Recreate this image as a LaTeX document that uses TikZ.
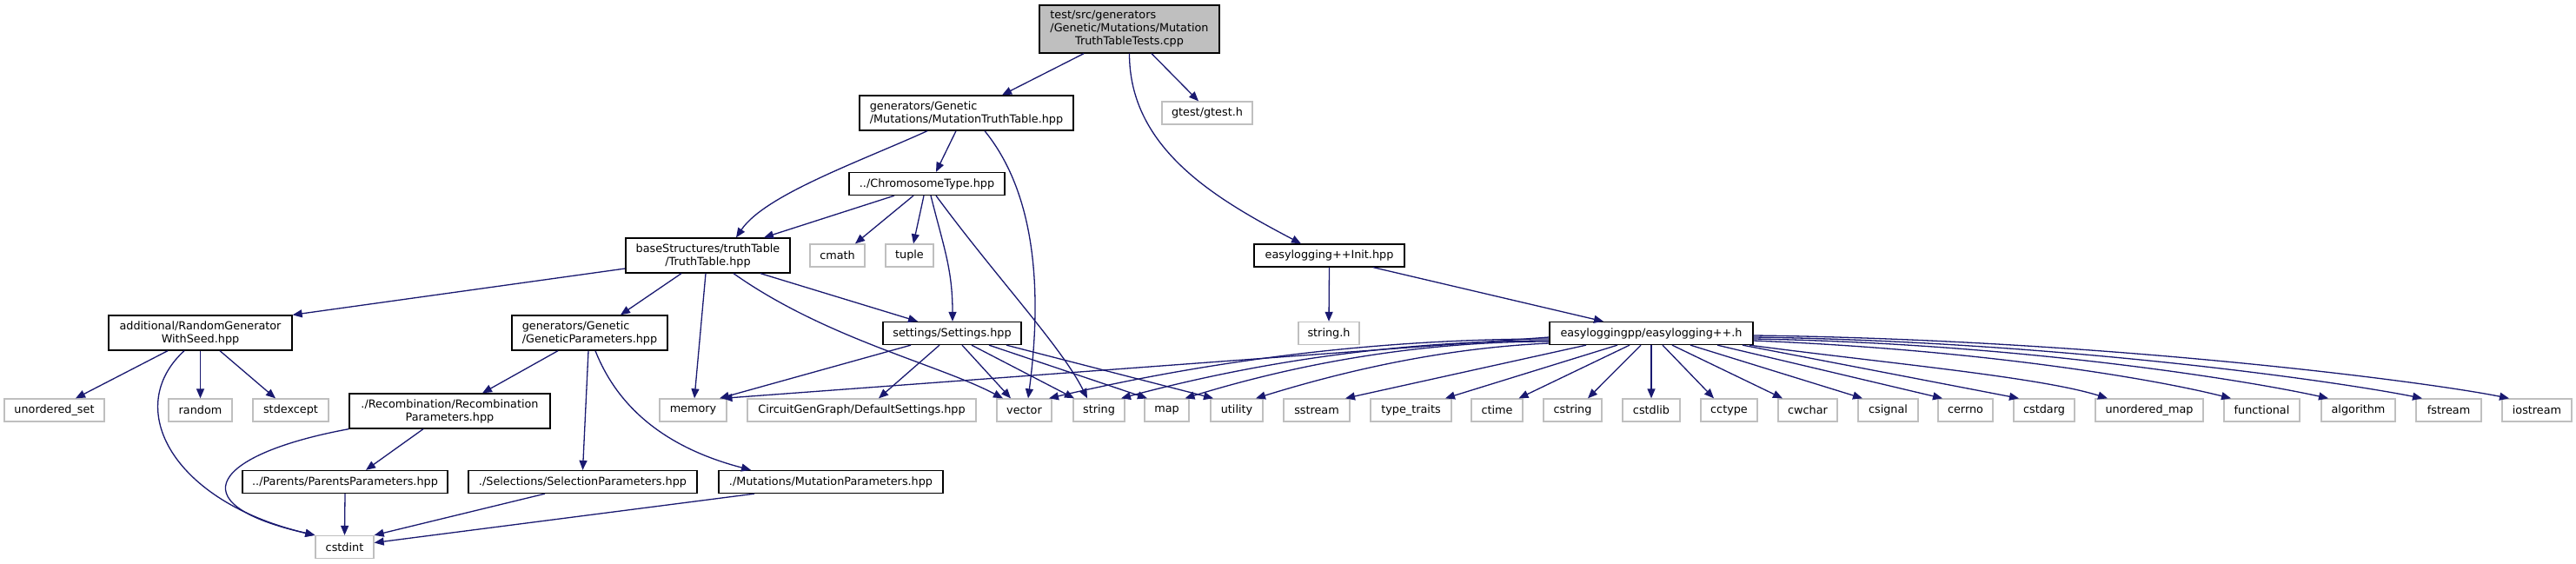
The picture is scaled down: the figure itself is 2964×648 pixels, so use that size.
\documentclass[tikz,border=0pt]{standalone}
\usepackage{fontspec}
\setmainfont{DejaVu Sans}
\usetikzlibrary{arrows.meta}
\definecolor{edgeblue}{HTML}{191970}
\definecolor{sysgray}{HTML}{BFBFBF}
\newlength\lw
\newcommand\lline[2]{\settowidth{\lw}{#2}\makebox[\lw][l]{#1}}
\begin{document}
\begin{tikzpicture}[x=1pt,y=-1pt,
  box/.style={rectangle, inner sep=0pt, font=\fontsize{12.8}{15}\selectfont, align=center, line width=1.3pt, minimum height=26pt},
  doc/.style={box, draw=black, fill=white},
  sys/.style={box, draw=sysgray, fill=white},
  mainnode/.style={box, draw=black, fill=sysgray},
  edge/.style={draw=edgeblue, line width=1.3pt, -{Triangle[length=11pt,width=9pt]}}
]
\fill[white] (0,0) rectangle (2964,648);
\useasboundingbox (0,0) rectangle (2964,648);

% documented nodes
\node[mainnode, minimum width=207pt, minimum height=55pt] (top) at (1299.5,33.5)
  {\lline{test/src/generators}{/Genetic/Mutations/Mutation}\\/Genetic/Mutations/Mutation\\TruthTableTests.cpp};
\node[doc, minimum width=246pt, minimum height=40pt] (mtt) at (1112,130)
  {\lline{generators/Genetic}{/Mutations/MutationTruthTable.hpp}\\/Mutations/MutationTruthTable.hpp};
\node[doc, minimum width=179pt] (chrom) at (1066.5,211.5) {../ChromosomeType.hpp};
\node[doc, minimum width=189pt, minimum height=40pt] (tt) at (814.5,294) {baseStructures/truthTable\\/TruthTable.hpp};
\node[doc, minimum width=173pt] (init) at (1529.5,294) {easylogging++Init.hpp};
\node[doc, minimum width=234pt] (elpp) at (1900,383.5) {easyloggingpp/easylogging++.h};
\node[doc, minimum width=159pt] (settings) at (1095.5,383.5) {settings/Settings.hpp};
\node[doc, minimum width=211pt, minimum height=40pt] (rng) at (230.5,383) {additional/RandomGenerator\\WithSeed.hpp};
\node[doc, minimum width=179pt, minimum height=40pt] (gp) at (678.5,383)
  {\lline{generators/Genetic}{/GeneticParameters.hpp}\\/GeneticParameters.hpp};
\node[doc, minimum width=231pt, minimum height=40pt] (recomb) at (517.5,473) {./Recombination/Recombination\\Parameters.hpp};
\node[doc, minimum width=236pt] (parents) at (397,554.5) {../Parents/ParentsParameters.hpp};
\node[doc, minimum width=263pt] (selection) at (670.5,554.5) {./Selections/SelectionParameters.hpp};
\node[doc, minimum width=258pt] (mutation) at (956,554.5) {./Mutations/MutationParameters.hpp};

% system headers
\node[sys, minimum width=104pt] (gtest) at (1389,130) {gtest/gtest.h};
\node[sys, minimum width=63pt] (cmath) at (963.5,294) {cmath};
\node[sys, minimum width=55pt] (tuple) at (1046.5,294) {tuple};
\node[sys, minimum width=70pt] (stringh) at (1529,383.5) {string.h};
\node[sys, minimum width=115pt] (uset) at (62.5,472) {unordered\_set};
\node[sys, minimum width=73pt] (random) at (230.5,472) {random};
\node[sys, minimum width=87pt] (stdexcept) at (334.5,472) {stdexcept};
\node[sys, minimum width=77pt] (memory) at (797.5,472) {memory};
\node[sys, minimum width=263pt] (defset) at (991.5,472) {CircuitGenGraph/DefaultSettings.hpp};
\node[sys, minimum width=63pt] (vector) at (1178.5,472) {vector};
\node[sys, minimum width=59pt] (string) at (1264.5,472) {string};
\node[sys, minimum width=51pt] (map) at (1342.5,472) {map};
\node[sys, minimum width=60pt] (utility) at (1423,472) {utility};
\node[sys, minimum width=76pt] (sstream) at (1515,472) {sstream};
\node[sys, minimum width=93pt] (typetraits) at (1623.5,472) {type\_traits};
\node[sys, minimum width=59pt] (ctime) at (1722.5,472) {ctime};
\node[sys, minimum width=67pt] (cstring) at (1809.5,472) {cstring};
\node[sys, minimum width=66pt] (cstdlib) at (1900,472) {cstdlib};
\node[sys, minimum width=65pt] (cctype) at (1989.5,472) {cctype};
\node[sys, minimum width=68pt] (cwchar) at (2080,472) {cwchar};
\node[sys, minimum width=69pt] (csignal) at (2172.5,472) {csignal};
\node[sys, minimum width=63pt] (cerrno) at (2261.5,472) {cerrno};
\node[sys, minimum width=70pt] (cstdarg) at (2352,472) {cstdarg};
\node[sys, minimum width=124pt] (umap) at (2473,472) {unordered\_map};
\node[sys, minimum width=87pt] (functional) at (2602.5,472) {functional};
\node[sys, minimum width=85pt] (algorithm) at (2713.5,472) {algorithm};
\node[sys, minimum width=75pt] (fstream) at (2817.5,472) {fstream};
\node[sys, minimum width=80pt] (iostream) at (2919,472) {iostream};
\node[sys, minimum width=67pt] (cstdint) at (396.5,629.5) {cstdint};

% edges from top
\draw[edge] ([xshift=-52.5pt]top.south) -- ([xshift=41pt]mtt.north);
\draw[edge] ([xshift=25.5pt]top.south) -- ([xshift=-10pt]gtest.north);
\draw[edge] (top.south) .. controls +(0,110) and +(-97,-51) .. ([xshift=-32.5pt]init.north);

% MutationTruthTable
\draw[edge] ([xshift=-45pt]mtt.south) .. controls +(-77,35) and +(33,-49) .. ([xshift=32.5pt]tt.north);
\draw[edge] ([xshift=-12pt]mtt.south) -- ([xshift=10.5pt]chrom.north);
\draw[edge] ([xshift=21pt]mtt.south) .. controls +(57,70) and +(17,-129) .. ([xshift=4.5pt]vector.north);

% ChromosomeType
\draw[edge] ([xshift=-37.5pt]chrom.south) -- ([xshift=64.5pt]tt.north);
\draw[edge] ([xshift=-15.5pt]chrom.south) -- ([xshift=20.5pt]cmath.north);
\draw[edge] ([xshift=-3.5pt]chrom.south) -- ([xshift=4.5pt]tuple.north);
\draw[edge] ([xshift=4.5pt]chrom.south) .. controls +(15,60) and +(0,-60) .. ([xshift=0.5pt]settings.north);
\draw[edge] ([xshift=10.5pt]chrom.south) .. controls +(70,95) and +(-30,-60) .. ([xshift=-13.5pt]string.north);

% TruthTable
\draw[edge] ([yshift=-15pt]tt.west) -- (rng.north east);
\draw[edge] ([xshift=-30.5pt]tt.south) -- ([xshift=35.5pt]gp.north);
\draw[edge] ([xshift=-2.5pt]tt.south) -- ([xshift=1.5pt]memory.north);
\draw[edge] ([xshift=29.5pt]tt.south) .. controls +(106,75) and +(-74,-39) .. ([xshift=-24.5pt]vector.north);
\draw[edge] ([xshift=60.5pt]tt.south) -- ([xshift=-39.5pt]settings.north);

% Settings
\draw[edge] ([xshift=-47.5pt]settings.south) -- ([xshift=30.5pt]memory.north);
\draw[edge] ([xshift=-14.5pt]settings.south) -- ([xshift=19.5pt]defset.north);
\draw[edge] ([xshift=11.5pt]settings.south) -- ([xshift=-15.5pt]vector.north);
\draw[edge] ([xshift=22.5pt]settings.south) -- ([xshift=-28.5pt]string.north);
\draw[edge] ([xshift=42.5pt]settings.south) -- ([xshift=-22.5pt]map.north);
\draw[edge] ([xshift=62.5pt]settings.south) -- ([xshift=-27pt]utility.north);

% easylogging++Init
\draw[edge] (init.south) -- (stringh.north);
\draw[edge] ([xshift=50.5pt]init.south) -- ([xshift=-55pt]elpp.north);

% RandomGeneratorWithSeed
\draw[edge] ([xshift=-37.5pt]rng.south) -- ([xshift=24.5pt]uset.north);
\draw[edge] (rng.south) -- (random.north);
\draw[edge] ([xshift=22.5pt]rng.south) -- ([xshift=-17.5pt]stdexcept.north);
\draw[edge] ([xshift=-18.5pt]rng.south) .. controls +(-72,66) and +(-163,-38) .. (cstdint.north west);

% Recombination
\draw[edge] (recomb.south west) .. controls +(-152,28) and +(-163,-37) .. (cstdint.north west);
\draw[edge] ([xshift=-30.5pt]recomb.south) -- ([xshift=24pt]parents.north);
\draw[edge] (parents.south) -- (cstdint.north);

% GeneticParameters
\draw[edge] ([xshift=-36.5pt]gp.south) -- ([xshift=37.5pt]recomb.north);
\draw[edge] ([xshift=-1.5pt]gp.south) -- (selection.north);
\draw[edge] ([xshift=6.5pt]gp.south) .. controls +(30,76) and +(-84,-22) .. ([xshift=-92pt]mutation.north);
\draw[edge] ([xshift=-43.5pt]selection.south) -- (cstdint.north east);
\draw[edge] ([xshift=-88pt]mutation.south) -- ([yshift=5pt]cstdint.east);

% easylogging++.h
\draw[edge] ([yshift=-4.5pt]elpp.west) -- ([xshift=34pt]memory.north);
\draw[edge] ([yshift=-6.5pt]elpp.west) .. controls +(-192,0) and +(192,-45) .. ([xshift=28.5pt]vector.north);
\draw[edge] ([yshift=-8.5pt]elpp.west) .. controls +(-164,0) and +(164,-44) .. ([xshift=25.5pt]string.north);
\draw[edge] ([yshift=-9.5pt]elpp.west) .. controls +(-140,0) and +(140,-43) .. ([xshift=21pt]map.north);
\draw[edge] ([yshift=-11.5pt]elpp.west) .. controls +(-113,5) and +(113,-35) .. ([xshift=22pt]utility.north);
\draw[edge] ([xshift=-75pt]elpp.south) -- ([xshift=33pt]sstream.north);
\draw[edge] ([xshift=-39pt]elpp.south) -- ([xshift=39.5pt]typetraits.north);
\draw[edge] ([xshift=-25pt]elpp.south) -- ([xshift=25pt]ctime.north);
\draw[edge] ([xshift=-12pt]elpp.south) -- ([xshift=17.5pt]cstring.north);
\draw[edge] (elpp.south) -- (cstdlib.north);
\draw[edge] ([xshift=13pt]elpp.south) -- ([xshift=-17.5pt]cctype.north);
\draw[edge] ([xshift=24pt]elpp.south) -- ([xshift=-29pt]cwchar.north);
\draw[edge] ([xshift=45pt]elpp.south) -- ([xshift=-29.5pt]csignal.north);
\draw[edge] ([xshift=76pt]elpp.south) -- ([xshift=-26.5pt]cerrno.north);
\draw[edge] ([xshift=105pt]elpp.south) -- ([xshift=-29pt]cstdarg.north);
\draw[edge] ([xshift=113pt]elpp.south) .. controls +(150,20) and +(-80,-25) .. ([xshift=-48pt]umap.north);
\draw[edge] ([yshift=-8.5pt]elpp.east) .. controls +(250,10) and +(-100,-25) .. ([xshift=-35.5pt]functional.north);
\draw[edge] ([yshift=-6.5pt]elpp.east) .. controls +(300,5) and +(-100,-22) .. ([xshift=-34.5pt]algorithm.north);
\draw[edge] ([yshift=-4.5pt]elpp.east) .. controls +(350,5) and +(-100,-20) .. ([xshift=-30.5pt]fstream.north);
\draw[edge] ([yshift=-2.5pt]elpp.east) .. controls +(400,5) and +(-100,-20) .. ([xshift=-32pt]iostream.north);
\end{tikzpicture}
\end{document}
